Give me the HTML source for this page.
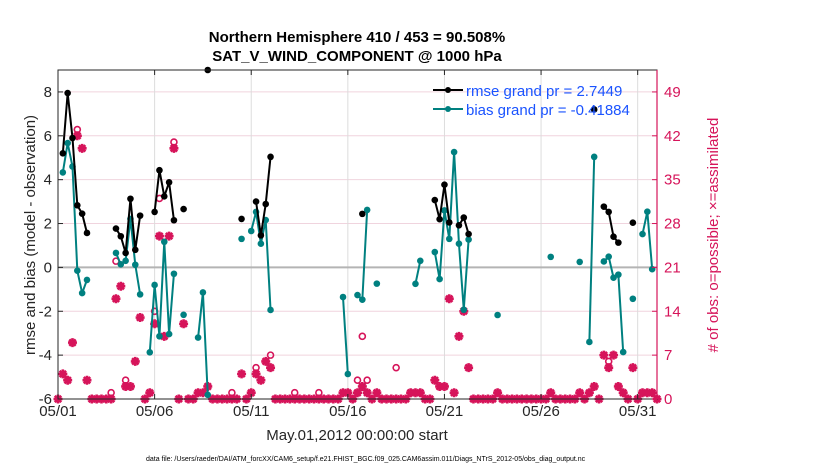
<!DOCTYPE html>
<html><head><meta charset="utf-8"><style>
html,body{margin:0;padding:0;background:#fff;}
svg{display:block;font-family:"Liberation Sans",sans-serif;}
</style></head><body>
<svg id="chart" width="830" height="470" viewBox="0 0 830 470" xmlns="http://www.w3.org/2000/svg">
<text x="357" y="42" text-anchor="middle" font-size="15" font-weight="bold">Northern Hemisphere 410 / 453 = 90.508%</text>
<text x="357" y="61" text-anchor="middle" font-size="15" font-weight="bold">SAT_V_WIND_COMPONENT @ 1000 hPa</text>
<g id="grid"></g>
<g id="marks"></g>
<rect x="58" y="70" width="599" height="329" fill="none" stroke="#262626" stroke-width="1"/>
<g id="axes"></g>
<g>
<g>
<line x1="433" y1="90" x2="463" y2="90" stroke="#000" stroke-width="2"/>
<circle cx="448" cy="90" r="3" fill="#000"/>
<text x="466" y="96" font-size="15" fill="#1a53ff">rmse grand pr = 2.7449</text>
</g>
<g>
<line x1="433" y1="109" x2="463" y2="109" stroke="#008080" stroke-width="2"/>
<circle cx="448" cy="109" r="3" fill="#008080"/>
<text x="466" y="115" font-size="15" fill="#1a53ff">bias grand pr = -0.41884</text>
</g>
</g>
<text transform="translate(35,235) rotate(-90)" text-anchor="middle" font-size="15" fill="#262626">rmse and bias (model - observation)</text>
<text transform="translate(718,235) rotate(-90)" text-anchor="middle" font-size="15" fill="#d6145a"># of obs: o=possible; ×=assimilated</text>
<text x="357" y="440" text-anchor="middle" font-size="15" fill="#262626">May.01,2012 00:00:00 start</text>
<text x="146" y="461" font-size="7" fill="#000">data file: /Users/raeder/DAI/ATM_forcXX/CAM6_setup/f.e21.FHIST_BGC.f09_025.CAM6assim.011/Diags_NTrS_2012-05/obs_diag_output.nc</text>
</svg>
<script>
// time step index k: day = k * 0.25 (6-hourly), 0..124
const rmseIdx = [1,2,3,4,5,6,12,13,14,15,16,17,20,21,22,23,24,26,31,38,41,42,43,44,63,78,79,80,81,83,84,85,111,113,114,115,116,119];
const rmseVal = [5.2,7.95,5.9,2.83,2.45,1.57,1.77,1.42,0.66,3.13,0.8,2.36,2.53,4.43,3.24,3.88,2.15,2.66,9.0,2.21,3.0,1.46,2.89,5.04,2.44,3.07,2.2,3.77,2.05,1.92,2.27,1.52,7.2,2.77,2.53,1.4,1.13,2.04];
const biasIdx = [1,2,3,4,5,6,12,13,14,15,16,17,19,20,21,22,23,24,26,29,30,31,38,40,41,42,43,44,59,60,62,63,64,66,74,75,78,79,80,81,82,83,84,85,91,102,108,110,111,113,114,115,116,117,119,121,122,123];
const biasVal = [4.33,5.67,4.6,-0.15,-1.17,-0.57,0.66,0.14,0.3,2.21,0.12,-1.23,-3.87,-0.8,-3.14,1.17,-3.04,-0.29,-2.16,-3.2,-1.14,-5.81,1.3,1.66,2.53,1.08,2.16,-1.94,-1.35,-4.86,-1.26,-1.47,2.62,-0.74,-0.75,0.3,0.7,-0.53,2.6,1.3,5.26,1.08,-1.93,1.27,-2.17,0.48,0.25,-3.4,5.04,0.27,0.49,-0.47,-0.33,-3.86,-1.43,1.52,2.54,-0.08];
// assimilated counts per step 0..124
const nUsed = [0,4,3,9,42,40,3,0,0,0,0,0,16,18,2,2,6,13,0,1,12,26,10,26,40,0,12,0,0,1,1,2,0,0,0,0,0,0,4,0,1,4,3,6,5,0,0,0,0,0,0,0,0,0,0,0,0,0,0,1,1,0,1,2,1,0,1,0,0,0,0,0,0,1,1,1,0,0,3,2,2,16,1,10,14,5,0,0,0,0,0,1,0,0,0,0,0,0,0,0,0,0,1,0,0,0,0,0,1,0,1,2,0,7,5,7,2,1,0,5,0,1,1,1,0];
// possible counts where differing from assimilated
const possIdx = [4,11,12,14,20,21,24,36,41,44,49,54,62,63,64,70,114];
const possVal = [43,1,22,3,14,32,41,1,5,7,1,1,3,10,3,5,6];
const yTicks = [-6,-4,-2,0,2,4,6,8];
const rTicks = [0,7,14,21,28,35,42,49];
const xTickDays = [0,5,10,15,20,25,30];
const xTickLabels = ["05/01","05/06","05/11","05/16","05/21","05/26","05/31"];

const L=58,R=657,T=70,B=399, DAYS=31, YMIN=-6, YMAX=9, NMAX=52.5;
const xs = d => L + d/DAYS*(R-L);
const xk = k => xs(k*0.25);
const ys = v => B - (v-YMIN)/(YMAX-YMIN)*(B-T);
const yn = n => B - n/NMAX*(B-T);
const NS="http://www.w3.org/2000/svg";
function mk(tag, attrs, parent){const e=document.createElementNS(NS,tag);for(const a in attrs)e.setAttribute(a,attrs[a]);parent.appendChild(e);return e;}
const grid=document.getElementById('grid'), marks=document.getElementById('marks'), axes=document.getElementById('axes');

yTicks.forEach(v=>{ if(v!==0&&v!==-6){const l=mk('line',{x1:L,x2:R,y1:ys(v),y2:ys(v),stroke:'#f0d4de','stroke-width':1},grid);

}});
xTickDays.forEach(d=>{ if(d>0){const l=mk('line',{x1:xs(d),x2:xs(d),y1:T,y2:B,stroke:'#dcdcdc','stroke-width':1},grid);

}});
const z=mk('line',{x1:L,x2:R,y1:ys(0),y2:ys(0),stroke:'#b4b4b4','stroke-width':2},grid);



const MAG='#d6145a';
possIdx.forEach((k,i)=>{const c=mk('circle',{cx:xk(k),cy:yn(possVal[i]),r:3,fill:'none',stroke:MAG,'stroke-width':1.6},marks);

});
nUsed.forEach((n,k)=>{const x=xk(k),y=yn(n),s=4.5;
const g=mk('path',{d:`M${x-s} ${y}H${x+s}M${x} ${y-s}V${y+s}M${x-3.2} ${y-3.2}L${x+3.2} ${y+3.2}M${x-3.2} ${y+3.2}L${x+3.2} ${y-3.2}`,stroke:MAG,'stroke-width':2.6,fill:'none'},marks);

});

function series(idx,val,color,name){
  let seg=[];const segs=[];
  idx.forEach((k,i)=>{ if(i>0 && k-idx[i-1]>1){segs.push(seg);seg=[];} seg.push([xk(k),ys(Math.min(val[i],YMAX))]); });
  segs.push(seg);
  segs.forEach(s=>{ if(s.length>1){const p=mk('polyline',{points:s.map(q=>q.join(',')).join(' '),fill:'none',stroke:color,'stroke-width':2},marks);
  
  }});
  idx.forEach((k,i)=>{const c=mk('circle',{cx:xk(k),cy:ys(Math.min(val[i],YMAX)),r:3.3,fill:color},marks);
  
  });
}
series(biasIdx,biasVal,'#008080','bias');
series(rmseIdx,rmseVal,'#000000','rmse');

yTicks.forEach(v=>{const t=mk('text',{x:L-6,y:ys(v)+5,'text-anchor':'end','font-size':15,fill:'#262626'},axes);t.textContent=v;


const l=mk('line',{x1:L,x2:L+5,y1:ys(v),y2:ys(v),stroke:'#262626'},axes);

});
mk('line',{x1:R,x2:R,y1:T,y2:B,stroke:MAG,'stroke-width':1.2},axes);
rTicks.forEach(n=>{const t=mk('text',{x:R+7,y:yn(n)+5,'font-size':15,fill:MAG},axes);t.textContent=n;


const l=mk('line',{x1:R-5,x2:R,y1:yn(n),y2:yn(n),stroke:MAG},axes);

});
xTickDays.forEach((d,i)=>{const t=mk('text',{x:xs(d),y:416,'text-anchor':'middle','font-size':15,fill:'#262626'},axes);t.textContent=xTickLabels[i];


const l=mk('line',{x1:xs(d),x2:xs(d),y1:B,y2:B-5,stroke:'#262626'},axes);


const l2=mk('line',{x1:xs(d),x2:xs(d),y1:T,y2:T+5,stroke:'#262626'},axes);

});
</script>
</body></html>
